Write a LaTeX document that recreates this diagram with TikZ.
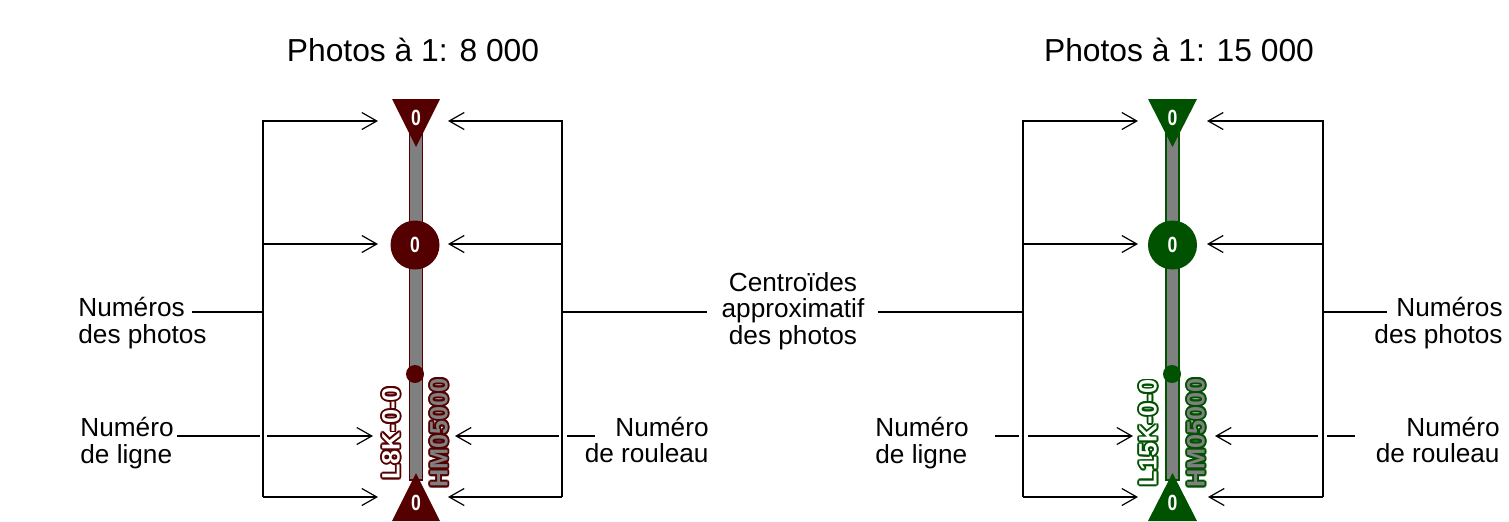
\documentclass[tikz,border=0pt]{standalone}
\usepackage{fontspec}
\setmainfont{Liberation Sans}
\newfontfamily\narrowsf{Liberation Sans}[FakeStretch=0.8]
\usetikzlibrary{arrows.meta}
\definecolor{dred}{RGB}{85,0,0}
\definecolor{dgreen}{RGB}{0,82,0}
\definecolor{bargray}{RGB}{128,128,128}
\tikzset{
  conn/.style={line width=0.6pt, draw=black},
  arr/.style={conn, -{Straight Barb[length=7.5pt,width=8.5pt,line width=0.6pt]}},
  lbl/.style={font=\fontsize{13.1}{13.25}\selectfont, inner sep=0pt},
  ttl/.style={font=\fontsize{15.9}{18}\selectfont, inner sep=0pt},
  zero/.style={font=\narrowsf\fontsize{11}{12}\bfseries\selectfont, text=white, inner sep=0pt},
  rot/.style={font=\fontsize{12.6}{14}\bfseries\selectfont, rotate=90, inner sep=0pt},
  bar/.style={fill=bargray, line width=0.8pt},
}
\newcommand\halotext[5]{%
  \foreach \a in {0,30,...,330}{\node[rot, text=#3, shift={(\a:0.9pt)}] at #2 {#5};}
  \node[rot, text=#4] (#1) at #2 {#5};
}
\begin{document}
\begin{tikzpicture}[x=0.5pt, y=-0.5pt]
\useasboundingbox (0,0) rectangle (1509,521);
% ---------------- titles
\node[ttl, anchor=base] (t1) at (413,61) {Photos à 1: 8 000};
\node[ttl, anchor=base] (t2) at (1179,61) {Photos à 1: 15 000};

% ================= LEFT DIAGRAM (1:8 000)
\filldraw[bar, draw=dred] (409.5,125) rectangle (422.5,480);
\fill[dred] (392,99) -- (440,99) -- (416,147) -- cycle;
\fill[dred] (392,521) -- (440,521) -- (416,473) -- cycle;
\node[circle, fill=dred, minimum size=24.5pt, inner sep=0pt] (c1) at (415,245) {};
\node[circle, fill=dred, minimum size=9pt, inner sep=0pt] (d1) at (415,374) {};
\node[zero] (z1t) at (416,118) {0};
\node[zero] (z1c) at (415,245) {0};
\node[zero] (z1b) at (416,503) {0};
\halotext{L1}{(391,433.5)}{dred}{white}{L8K-0-0}
\halotext{H1}{(439,433)}{dred}{bargray}{HM05000}

\coordinate (LVt) at (263,121); \coordinate (LVc) at (263,244);
\coordinate (LVl) at (267,436); \coordinate (LVb) at (263,497);
\coordinate (LTt) at (378,121); \coordinate (LTc) at (378,244);
\coordinate (LTl) at (373,436); \coordinate (LTb) at (378,497);
\coordinate (RVt) at (562,121); \coordinate (RVc) at (562,244);
\coordinate (RVr) at (559,436); \coordinate (RVb) at (562,497);
\coordinate (RTt) at (448,121); \coordinate (RTc) at (448,244);
\coordinate (RTr) at (455,436); \coordinate (RTb) at (448,497);
\draw[arr] (LVb) -- (LVt) -- (LTt);
\draw[arr] (LVc) -- (LTc);
\draw[arr] (LVl) -- (LTl);
\draw[arr] (LVb) -- (LTb);
\draw[arr] (RVb) -- (RVt) -- (RTt);
\draw[arr] (RVc) -- (RTc);
\draw[arr] (RVr) -- (RTr);
\draw[arr] (RVb) -- (RTb);

\node[lbl, anchor=west, align=left] (np1) at (78,323) {Numéros\\des photos};
\node[lbl, anchor=west, align=left] (nl1) at (80,443) {Numéro\\de ligne};
\node[lbl, anchor=east, align=right] (nr1) at (709,440) {Numéro\\de rouleau};
\node[lbl, align=center] (cen) at (793,311) {Centroïdes\\approximatif\\des photos};

\coordinate (np1e) at (192,312); \coordinate (np1v) at (263,312);
\coordinate (nl1e) at (177,436); \coordinate (nl1v) at (260,436);
\coordinate (nr1v) at (567,436); \coordinate (nr1e) at (595,436);
\coordinate (cenL) at (707,312); \coordinate (cenLv) at (562,312);
\coordinate (cenR) at (878,312); \coordinate (cenRv) at (1023,312);
\draw[conn] (np1e) -- (np1v);
\draw[conn] (nl1e) -- (nl1v);
\draw[conn] (nr1v) -- (nr1e);
\draw[conn] (cenLv) -- (cenL);
\draw[conn] (cenR) -- (cenRv);

% ================= RIGHT DIAGRAM (1:15 000)
\filldraw[bar, draw=dgreen] (1166,125) rectangle (1179,480);
\fill[dgreen] (1148,99) -- (1197,99) -- (1172.5,147) -- cycle;
\fill[dgreen] (1148,521) -- (1197,521) -- (1172.5,473) -- cycle;
\node[circle, fill=dgreen, minimum size=24.5pt, inner sep=0pt] (c2) at (1172.5,245) {};
\node[circle, fill=dgreen, minimum size=9pt, inner sep=0pt] (d2) at (1172,374) {};
\node[zero] (z2t) at (1172.5,118) {0};
\node[zero] (z2c) at (1172.5,245) {0};
\node[zero] (z2b) at (1172.5,503) {0};
\halotext{L2}{(1148,433)}{dgreen}{white}{L15K-0-0}
\halotext{H2}{(1196,433)}{dgreen}{bargray}{HM05000}

\coordinate (lVt) at (1023,121); \coordinate (lVc) at (1023,244);
\coordinate (lVl) at (1028,436); \coordinate (lVb) at (1023,497);
\coordinate (lTt) at (1138,121); \coordinate (lTc) at (1138,244);
\coordinate (lTl) at (1133,436); \coordinate (lTb) at (1138,497);
\coordinate (rVt) at (1323,121); \coordinate (rVc) at (1323,244);
\coordinate (rVr) at (1318,436); \coordinate (rVb) at (1323,497);
\coordinate (rTt) at (1207,121); \coordinate (rTc) at (1207,244);
\coordinate (rTr) at (1215,436); \coordinate (rTb) at (1208,497);
\draw[arr] (lVb) -- (lVt) -- (lTt);
\draw[arr] (lVc) -- (lTc);
\draw[arr] (lVl) -- (lTl);
\draw[arr] (lVb) -- (lTb);
\draw[arr] (rVb) -- (rVt) -- (rTt);
\draw[arr] (rVc) -- (rTc);
\draw[arr] (rVr) -- (rTr);
\draw[arr] (rVb) -- (rTb);

\node[lbl, anchor=west, align=left] (nl2) at (875,443) {Numéro\\de ligne};
\node[lbl, anchor=east, align=right] (np2) at (1503,323) {Numéros\\des photos};
\node[lbl, anchor=east, align=right] (nr2) at (1500,440) {Numéro\\de rouleau};

\coordinate (nl2e) at (995,436); \coordinate (nl2v) at (1019,436);
\coordinate (nr2v) at (1327,436); \coordinate (nr2e) at (1355,436);
\coordinate (np2v) at (1323,312); \coordinate (np2e) at (1387,312);
\draw[conn] (nl2e) -- (nl2v);
\draw[conn] (nr2v) -- (nr2e);
\draw[conn] (np2v) -- (np2e);
\end{tikzpicture}
\end{document}
